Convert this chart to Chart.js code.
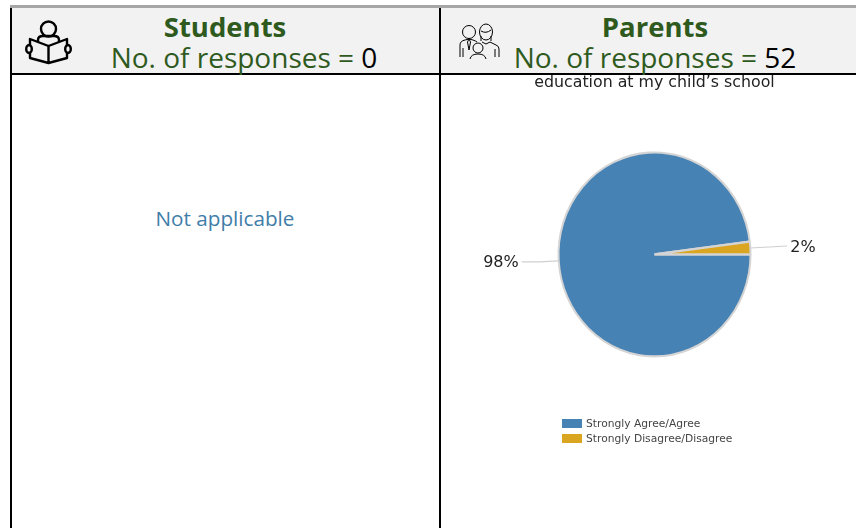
<!DOCTYPE html>
<html>
<head>
<meta charset="utf-8">
<title>Students and parents responses</title>
<script src="https://cdn.jsdelivr.net/npm/chart.js@4/dist/chart.umd.min.js"></script>
<style>
  html, body { margin: 0; padding: 0; background: #fff; overflow: hidden; }
  #page { position: relative; width: 856px; height: 528px; overflow: hidden; }
  .rule { position: absolute; background: #000; }
  .head { position: absolute; color: #2f5a1e; font-family: "Open Sans", sans-serif; white-space: nowrap; transform: translateX(-50%); }
  .who { font-size: 27.5px; font-weight: 700; top: 9px; line-height: 36px; }
  .count { font-size: 28px; top: 38px; line-height: 38px; }
  .count b { font-weight: 400; color: #000; }
  #na { position: absolute; left: 225px; top: 204px; transform: translateX(-50%); color: #3f7da8; font: 20.7px "Open Sans", sans-serif; white-space: nowrap; }
  #chart { position: absolute; left: 441px; top: 75px; }
  #legend { position: absolute; left: 562px; top: 416px; font: 10.7px "DejaVu Sans", sans-serif; color: #444; }
  #legend div { height: 15px; line-height: 15px; white-space: nowrap; }
  #legend i { display: inline-block; width: 20px; height: 9px; margin-right: 4px; vertical-align: -1px; }
  svg { position: absolute; fill: none; stroke: #000; }
</style>
</head>
<body>
<div id="page">
  <div style="position:absolute;left:10px;top:8px;width:846px;height:65px;background:#f2f2f2"></div>
  <div style="position:absolute;left:10px;top:5px;width:846px;height:3px;background:#a6a6a6"></div>
  <div class="rule" style="left:10px;top:8px;width:2px;height:520px"></div>
  <div class="rule" style="left:439px;top:8px;width:2px;height:520px"></div>
  <div class="rule" style="left:10px;top:73px;width:846px;height:2px"></div>

  <svg style="left:24px;top:18px" width="50" height="48" stroke-width="2.4" stroke-linejoin="round">
    <circle cx="24.5" cy="11" r="7.5"/>
    <path d="M14 24 v-2 q0 -4 5 -4 h11 q5 0 5 4 v2"/>
    <path d="M24.5 28 L6 21 V27 M24.5 28 L43 21 V27 M24.5 28 V45 M6 35 V40 L24.5 45 L43 40 V35"/>
    <ellipse cx="5" cy="31" rx="2.8" ry="4"/>
    <ellipse cx="44" cy="31" rx="2.8" ry="4"/>
  </svg>
  <svg style="left:458px;top:21px" width="44" height="38" stroke-width="1">
    <circle cx="11" cy="11" r="6.5"/>
    <path d="M2 36 V24 q0 -4 5 -5 l4 -1 l4 1 q3 1 4 2 M5 27 V36"/>
    <path d="M11 18 l-1.5 3 l1.5 8 l1.5 -8 z"/>
    <ellipse cx="28" cy="11" rx="6.5" ry="8"/>
    <path d="M23 10 q5 3 10 -1 M23 15 V20 M33 15 V20"/>
    <path d="M24 21 l4 2 l4 -2 l6 3 q3 1 3 4 V36 M37 28 V36"/>
    <circle cx="20" cy="27" r="5"/>
    <path d="M12 38 q1 -5 8 -5 q7 0 8 5"/>
  </svg>

  <div class="head who" style="left:225px">Students</div>
  <div class="head count" style="left:244px">No. of responses = <b>0</b></div>
  <div class="head who" style="left:655px">Parents</div>
  <div class="head count" style="left:655px">No. of responses = <b>52</b></div>

  <div id="na">Not applicable</div>
  <canvas id="chart" width="415" height="453"></canvas>
  <div id="legend"></div>
</div>

<script>
const categories = ["Strongly Agree/Agree", "Strongly Disagree/Disagree"];
const values = [98, 2];
const colors = ["#4682b4", "#daa520"];
const chartTitle = "education at my child\u2019s school";

// the original pie is a little taller than wide
const squash = 1.062;

const stretchPie = {
  id: "stretchPie",
  beforeDatasetsDraw(chart) {
    const arc = chart.getDatasetMeta(0).data[0];
    chart.ctx.save();
    chart.ctx.translate(arc.x, arc.y);
    chart.ctx.scale(1, squash);
    chart.ctx.translate(-arc.x, -arc.y);
  },
  afterDatasetsDraw(chart) {
    chart.ctx.restore();
  }
};

// percent labels with grey leader lines
const leaderLabels = {
  id: "leaderLabels",
  afterDraw(chart) {
    const ctx = chart.ctx;
    chart.getDatasetMeta(0).data.forEach((arc, i) => {
      const mid = (arc.startAngle + arc.endAngle) / 2;
      const r = arc.outerRadius;
      const side = Math.cos(mid) >= 0 ? 1 : -1;
      const x0 = arc.x + Math.cos(mid) * r;
      const y0 = arc.y + Math.sin(mid) * r * squash;
      const x1 = x0 + side * 19;
      const y1 = y0 + (side > 0 ? -1 : 1);
      const x2 = x1 + side * 18;
      const y2 = y1 + (side > 0 ? -1 : 0);
      ctx.save();
      ctx.strokeStyle = "#cfcfcf";
      ctx.lineWidth = 1.2;
      ctx.beginPath();
      ctx.moveTo(x0, y0);
      ctx.lineTo(x1, y1);
      ctx.lineTo(x2, y2);
      ctx.stroke();
      ctx.fillStyle = "#222";
      ctx.font = '16px "DejaVu Sans", sans-serif';
      ctx.textBaseline = "middle";
      ctx.textAlign = side > 0 ? "left" : "right";
      ctx.fillText(values[i] + "%", x2 + side * 3, y2 + 1.5);
      ctx.restore();
    });
  }
};

new Chart(document.getElementById("chart"), {
  type: "pie",
  data: {
    labels: categories,
    datasets: [{
      data: values,
      backgroundColor: colors,
      borderColor: "#d4d4d4",
      borderWidth: 2
    }]
  },
  options: {
    responsive: false,
    animation: false,
    rotation: 90,
    radius: 96,
    layout: { padding: { left: 12, top: 0, bottom: 177 } },
    plugins: {
      legend: { display: false },
      tooltip: { enabled: false },
      title: {
        display: true,
        text: chartTitle,
        color: "#222",
        font: { family: '"DejaVu Sans", sans-serif', size: 15.8, weight: "normal", lineHeight: 1 },
        padding: { top: 0, bottom: 67 }
      }
    }
  },
  plugins: [stretchPie, leaderLabels]
});

document.getElementById("legend").innerHTML = categories
  .map((c, i) => `<div><i style="background:${colors[i]}"></i>${c}</div>`)
  .join("");
</script>
</body>
</html>
